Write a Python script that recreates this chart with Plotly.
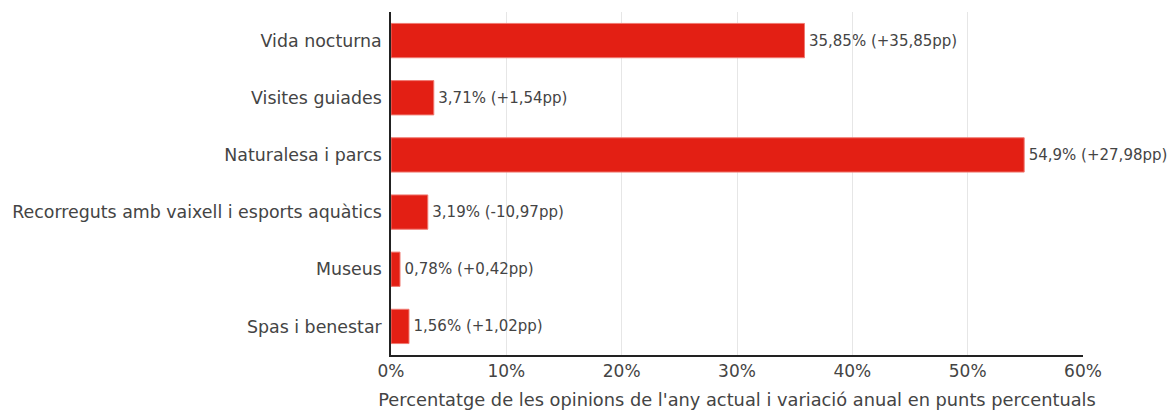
import plotly.graph_objects as go

categories = ["Vida nocturna", "Visites guiades", "Naturalesa i parcs",
              "Recorreguts amb vaixell i esports aquàtics", "Museus", "Spas i benestar"]
values = [35.85, 3.71, 54.9, 3.19, 0.78, 1.56]
changes = ["+35,85", "+1,54", "+27,98", "-10,97", "+0,42", "+1,02"]

labels = [f"\u200a{str(v).replace('.', ',')}% ({c}pp)" for v, c in zip(values, changes)]

fig = go.Figure()
fig.add_trace(go.Bar(
    x=values, y=categories, orientation="h",
    marker=dict(color="#e31f14", line=dict(color="#f07a72", width=1)),
    text=labels, textposition="outside", cliponaxis=False,
    constraintext="none",
    textfont=dict(size=15, color="#444", family="DejaVu Sans"),
))

fig.update_layout(
    width=1173, height=412,
    margin=dict(l=391, r=90, t=12, b=57),
    plot_bgcolor="white", paper_bgcolor="white",
    font=dict(family="DejaVu Sans", color="#444", size=17),
    bargap=0.4, showlegend=False,
)
fig.update_xaxes(
    range=[0, 60], dtick=10, ticksuffix="%", automargin=False,
    showgrid=True, gridcolor="#e6e6e6", zeroline=False,
    showline=True, linecolor="#222", linewidth=1.5,
    title=dict(text="Percentatge de les opinions de l'any actual i variació anual en punts percentuals",
               font=dict(size=17.8), standoff=13),
    tickfont=dict(size=17),
)
fig.update_yaxes(
    autorange="reversed", showline=True, linecolor="#222", linewidth=1.5,
    ticks="", ticklabelstandoff=4, tickfont=dict(size=17.4), automargin=False,
)

config = {'displayModeBar': False}
# drop the default body margin so the figure sits at the window corner
fig.write_html("out.html", config=config,
               post_script="document.body.style.margin='0';document.body.style.overflow='hidden';")
